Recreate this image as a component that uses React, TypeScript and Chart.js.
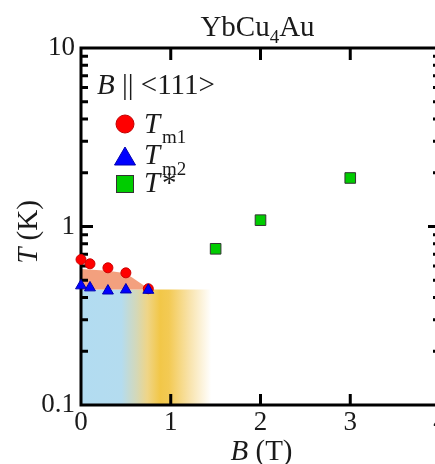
import React, { useEffect, useRef } from 'react';
import { Chart, registerables } from 'chart.js';

Chart.register(...registerables);

// ---------- data ----------
const tm1B = [0.0, 0.1, 0.3, 0.5, 0.75];
const tm1T = [0.653, 0.618, 0.587, 0.55, 0.448];
const tm2B = [0.0, 0.1, 0.3, 0.5, 0.75];
const tm2T = [0.466, 0.454, 0.436, 0.442, 0.44];
const tStarB = [1.5, 2.0, 3.0];
const tStarT = [0.75, 1.085, 1.87];
// ordered-phase (orange) region upper boundary and its floor
const orderedB = [0.0, 0.3, 0.5, 0.75];
const orderedTop = [0.578, 0.565, 0.548, 0.45];
const orderedFloor = 0.443;
// low-temperature crossover (blue/yellow) region
const crossoverB = [0.0, 1.5];
const crossoverTop = [0.443, 0.443];
// axes
const xTickValues = [0, 1, 2, 3, 4];
const xTickLabels = ['0', '1', '2', '3', '4'];
const yTickValues = [0.1, 1, 10];
const yTickLabels = ['0.1', '1', '10'];
const titleParts = ['YbCu', '4', 'Au'];
const legendHeader = ['B', ' || <111>'];
const legendNames = [['T', 'm1'], ['T', 'm2'], ['T', '*']];

// ---------- styles ----------
const SERIF = '"Liberation Serif", "Times New Roman", serif';
const gradientStops: [number, string][] = [
  [0.0, '#b2dcf1'],
  [0.45, '#b4dcef'],
  [0.62, '#d4d8b8'],
  [0.74, '#efd587'],
  [0.88, '#f2c748'],
  [0.98, '#f3ca54'],
  [1.2, '#f8e2a8'],
  [1.45, '#ffffff'],
];
const GRAD_END = 1.5;
const ORANGE = '#f3a07e';

const frameIndex = 1; // draw frame after the last region dataset

function drawFrame(chart: any) {
  const { ctx, chartArea } = chart;
  const { left, right, top, bottom } = chartArea;
  const x = chart.scales.x;
  const y = chart.scales.y;
  ctx.save();
  ctx.strokeStyle = '#000';
  ctx.lineWidth = 3;
  ctx.lineCap = 'butt';
  ctx.beginPath();
  for (const v of xTickValues) {
    if (v === xTickValues[0] || v === xTickValues[xTickValues.length - 1]) continue;
    const px = x.getPixelForValue(v);
    ctx.moveTo(px, bottom);
    ctx.lineTo(px, bottom - 11);
    ctx.moveTo(px, top);
    ctx.lineTo(px, top + 12);
  }
  for (let d = -1; d <= 0; d++) {
    for (let m = 1; m <= 9; m++) {
      const v = m * Math.pow(10, d);
      if (m === 1 && d === -1) continue;
      const py = y.getPixelForValue(v);
      const len = m === 1 ? 12 : 7;
      ctx.moveTo(left, py);
      ctx.lineTo(left + len, py);
      ctx.moveTo(right, py);
      ctx.lineTo(right - len, py);
    }
  }
  ctx.stroke();
  ctx.strokeRect(left, top, right - left, bottom - top);
  ctx.restore();
}

function drawTexts(chart: any) {
  const { ctx } = chart;
  ctx.save();
  ctx.fillStyle = '#1a1a1a';
  ctx.textBaseline = 'alphabetic';
  ctx.textAlign = 'left';
  // title
  const big = `29px ${SERIF}`;
  const small = `19px ${SERIF}`;
  ctx.font = big;
  const w1 = ctx.measureText(titleParts[0]).width;
  const w3 = ctx.measureText(titleParts[2]).width;
  ctx.font = small;
  const w2 = ctx.measureText(titleParts[1]).width;
  let tx = 257.5 - (w1 + w2 + w3) / 2;
  ctx.font = big;
  ctx.fillText(titleParts[0], tx, 36);
  tx += w1;
  ctx.font = small;
  ctx.fillText(titleParts[1], tx, 43);
  tx += w2;
  ctx.font = big;
  ctx.fillText(titleParts[2], tx, 36);

  // legend header
  ctx.font = `italic 29px ${SERIF}`;
  ctx.fillText(legendHeader[0], 97, 94);
  const bw = ctx.measureText(legendHeader[0]).width;
  ctx.font = big;
  ctx.fillText(legendHeader[1], 97 + bw, 94);

  // legend markers
  ctx.lineWidth = 1;
  ctx.fillStyle = '#ff0000';
  ctx.strokeStyle = '#c00000';
  ctx.beginPath();
  ctx.arc(125, 124, 9, 0, Math.PI * 2);
  ctx.fill();
  ctx.stroke();
  ctx.fillStyle = '#0000ff';
  ctx.strokeStyle = '#0000b0';
  ctx.beginPath();
  ctx.moveTo(125, 147);
  ctx.lineTo(135.5, 165);
  ctx.lineTo(114.5, 165);
  ctx.closePath();
  ctx.fill();
  ctx.stroke();
  ctx.fillStyle = '#00cc00';
  ctx.strokeStyle = '#333';
  ctx.fillRect(116.5, 175.5, 17, 17);
  ctx.strokeRect(116.5, 175.5, 17, 17);

  // legend labels
  ctx.fillStyle = '#1a1a1a';
  const baseY = [133, 164, 192];
  const subY = [143, 175, 192];
  legendNames.forEach((n, i) => {
    ctx.font = `italic 29px ${SERIF}`;
    ctx.fillText(n[0], 144, baseY[i]);
    ctx.font = i === 2 ? big : small;
    ctx.fillText(n[1], 162, subY[i]);
  });

  // x axis title
  ctx.font = `italic 29px ${SERIF}`;
  const bW = ctx.measureText('B').width;
  ctx.font = big;
  const rW = ctx.measureText(' (T)').width;
  let ax = 261.5 - (bW + rW) / 2;
  ctx.font = `italic 29px ${SERIF}`;
  ctx.fillText('B', ax, 460);
  ctx.font = big;
  ctx.fillText(' (T)', ax + bW, 460);

  // y axis title (rotated)
  ctx.save();
  ctx.translate(37, 232);
  ctx.rotate(-Math.PI / 2);
  ctx.font = `italic 29px ${SERIF}`;
  const tW = ctx.measureText('T').width;
  ctx.font = big;
  const kW = ctx.measureText(' (K)').width;
  const sx = -(tW + kW) / 2;
  ctx.font = `italic 29px ${SERIF}`;
  ctx.fillText('T', sx, 0);
  ctx.font = big;
  ctx.fillText(' (K)', sx + tW, 0);
  ctx.restore();

  ctx.restore();
}

const decorPlugin = {
  id: 'decor',
  afterDatasetDraw(chart: any, args: any) {
    if (args.index === frameIndex) drawFrame(chart);
  },
  afterDraw(chart: any) {
    drawTexts(chart);
  },
};

export default function App() {
  const ref = useRef<HTMLCanvasElement | null>(null);
  useEffect(() => {
    if (!ref.current) return;
    const chart = new Chart(ref.current, {
      type: 'scatter',
      data: {
        datasets: [
          {
            type: 'line',
            label: 'crossover',
            data: crossoverB.map((b, i) => ({ x: b, y: crossoverTop[i] })),
            borderWidth: 0,
            pointRadius: 0,
            fill: 'start',
            order: 6,
            backgroundColor: (c: any) => {
              const ch = c.chart;
              if (!ch.chartArea) return gradientStops[0][1];
              const xs = ch.scales.x;
              const x0 = xs.getPixelForValue(0);
              const x1 = xs.getPixelForValue(GRAD_END);
              const g = ch.ctx.createLinearGradient(x0, 0, x1, 0);
              gradientStops.forEach(([p, col]) => g.addColorStop(Math.min(1, p / GRAD_END), col));
              return g;
            },
          } as any,
          {
            type: 'line',
            label: 'ordered',
            data: orderedB.map((b, i) => ({ x: b, y: orderedTop[i] })),
            borderWidth: 0,
            pointRadius: 0,
            fill: { value: orderedFloor },
            backgroundColor: ORANGE,
            order: 5,
          } as any,
          {
            label: 'T*',
            data: tStarB.map((b, i) => ({ x: b, y: tStarT[i] })),
            pointStyle: 'rect',
            pointRadius: 7.5,
            backgroundColor: '#00cc00',
            borderColor: '#333',
            borderWidth: 1,
            order: 3,
            clip: false,
          } as any,
          {
            label: 'Tm1',
            data: tm1B.map((b, i) => ({ x: b, y: tm1T[i] })),
            pointStyle: 'circle',
            pointRadius: 5,
            backgroundColor: '#ff0000',
            borderColor: '#cc0000',
            borderWidth: 1,
            order: 2,
            clip: false,
          } as any,
          {
            label: 'Tm2',
            data: tm2B.map((b, i) => ({ x: b, y: tm2T[i] })),
            pointStyle: 'triangle',
            pointRadius: 6.3,
            backgroundColor: '#0000ff',
            borderColor: '#0000b0',
            borderWidth: 1,
            order: 1,
            clip: false,
          } as any,
        ],
      },
      options: {
        responsive: false,
        animation: false,
        devicePixelRatio: 1,
        layout: { padding: { top: 48, right: 30, left: 0, bottom: 0 } },
        plugins: { legend: { display: false }, title: { display: false }, tooltip: { enabled: false } },
        scales: {
          x: {
            type: 'linear',
            min: 0,
            max: 4,
            afterBuildTicks: (s: any) => {
              s.ticks = xTickValues.map((v) => ({ value: v }));
            },
            grid: { display: false, drawTicks: false },
            border: { display: false },
            ticks: {
              autoSkip: false,
              maxRotation: 0,
              padding: 2,
              color: '#1a1a1a',
              font: { family: SERIF, size: 27 },
              callback: (v: any) => {
                const i = xTickValues.findIndex((t) => Math.abs(t - v) < 1e-9);
                return i >= 0 ? xTickLabels[i] : '';
              },
            },
            afterFit: (s: any) => {
              s.height = 59;
            },
          },
          y: {
            type: 'logarithmic',
            min: 0.1,
            max: 10,
            afterBuildTicks: (s: any) => {
              s.ticks = yTickValues.map((v) => ({ value: v, major: true }));
            },
            grid: { display: false, drawTicks: false },
            border: { display: false },
            ticks: {
              autoSkip: false,
              padding: 6,
              color: '#1a1a1a',
              font: { family: SERIF, size: 27 },
              callback: (v: any) => {
                const i = yTickValues.findIndex((t) => Math.abs(t - v) < 1e-9);
                return i >= 0 ? yTickLabels[i] : '';
              },
            },
            afterFit: (s: any) => {
              s.width = 81;
            },
          },
        },
      },
      plugins: [decorPlugin],
    } as any);
    return () => chart.destroy();
  }, []);
  return (
    <div
      style={{
        position: 'fixed',
        left: 0,
        top: 0,
        width: 435,
        height: 464,
        overflow: 'hidden',
        background: '#fff',
      }}
    >
      <canvas ref={ref} width={470} height={464} style={{ width: 470, height: 464, display: 'block' }} />
    </div>
  );
}
